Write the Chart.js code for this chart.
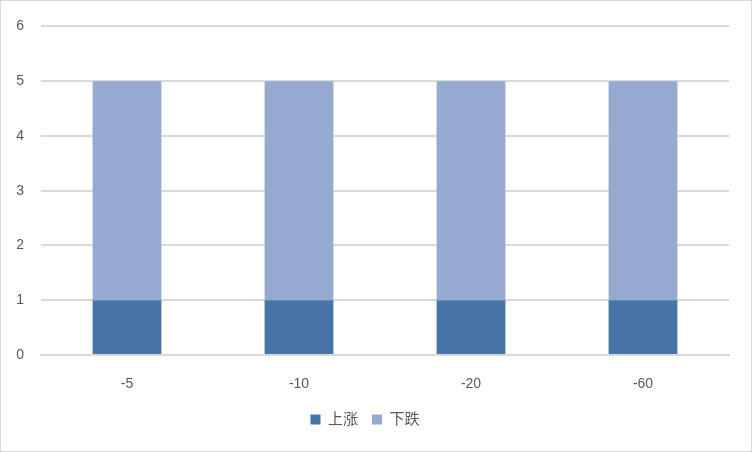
<!DOCTYPE html>
<html>
<head>
<meta charset="utf-8">
<script src="https://cdn.jsdelivr.net/npm/chart.js@4/dist/chart.umd.min.js"></script>
<style>
  html, body { margin: 0; padding: 0; background: #fff; }
  #wrap { width: 750px; height: 450px; border: 1px solid #d9d9d9; position: relative; }
</style>
</head>
<body>
<div id="wrap"><canvas id="bar-chart"></canvas></div>
<script>
// Chart data
var categories = ["-5", "-10", "-20", "-60"];
var riseValues = [1, 1, 1, 1];
var fallValues = [4, 4, 4, 4];
var yTicks = [0, 1, 2, 3, 4, 5, 6];

var ctx = document.getElementById("bar-chart");

var chartData = {
    labels: categories,
    datasets: [{
        label: "上涨",
        data: riseValues,
        backgroundColor: "#4674A7"
    }, {
        label: "下跌",
        data: fallValues,
        backgroundColor: "#96AAD1"
    }]
};

var chartOptions = {
    responsive: true,
    maintainAspectRatio: false,
    animation: false,
    layout: { padding: { left: 0, right: 22, top: 12, bottom: 14 } },
    datasets: { bar: { categoryPercentage: 1, barPercentage: 0.4 } },
    plugins: {
        tooltip: { enabled: false },
        legend: {
            position: "bottom",
            labels: {
                boxWidth: 10, boxHeight: 10, padding: 14,
                color: "#595959",
                font: { family: "Liberation Sans, Noto Sans CJK SC", size: 15 }
            }
        }
    },
    scales: {
        x: {
            stacked: true,
            grid: { display: false, drawTicks: false },
            border: { color: "#d9d9d9", width: 2 },
            ticks: { color: "#595959", padding: 21, font: { family: "Liberation Sans", size: 14 } },
            afterFit: function (scale) { scale.height = 43; }
        },
        y: {
            stacked: true,
            min: 0, max: 6,
            afterBuildTicks: function (scale) { scale.ticks = yTicks.map(function (v) { return { value: v }; }); },
            grid: { color: "#d9d9d9", lineWidth: 2, drawTicks: false },
            border: { display: false },
            ticks: { color: "#595959", padding: 17, font: { family: "Liberation Sans", size: 14 } },
            afterFit: function (scale) { scale.width = 40; }
        }
    }
};

var barChart = new Chart(ctx, { type: "bar", data: chartData, options: chartOptions });
</script>
</body>
</html>
